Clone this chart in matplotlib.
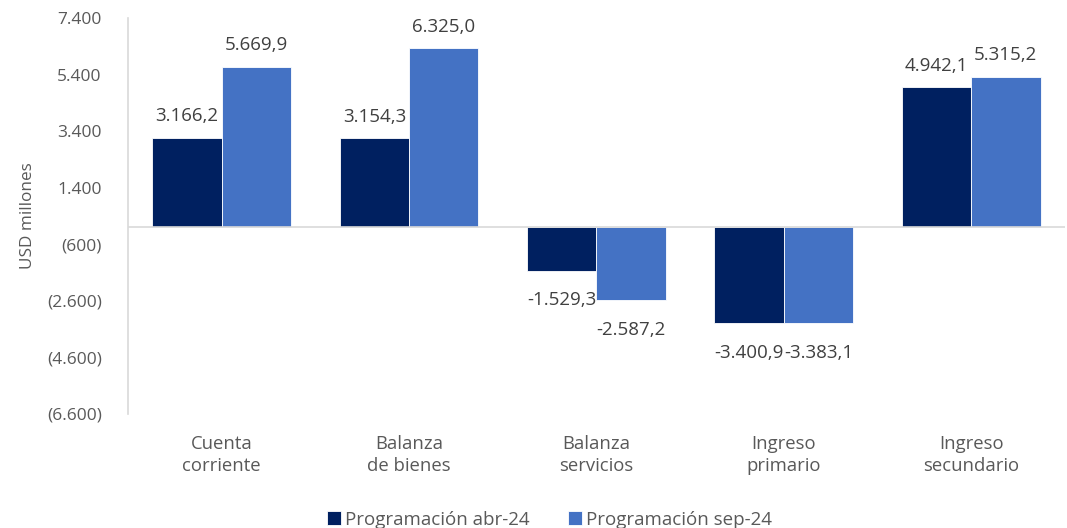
import numpy as np
import matplotlib.pyplot as plt

categories = ["Cuenta\ncorriente", "Balanza\nde bienes", "Balanza\nservicios",
              "Ingreso\nprimario", "Ingreso\nsecundario"]
abr24 = [3166.2, 3154.3, -1529.3, -3400.9, 4942.1]
sep24 = [5669.9, 6325.0, -2587.2, -3383.1, 5315.2]
series_names = ["Programación abr-24", "Programación sep-24"]
yticks = [7400, 5400, 3400, 1400, -600, -2600, -4600, -6600]


def fmt_es(v, dec=1):
    s = f"{abs(v):,.{dec}f}".replace(",", "X").replace(".", ",").replace("X", ".")
    return ("-" if v < 0 else "") + s


def fmt_tick(v):
    s = f"{abs(v):,.0f}".replace(",", ".")
    return f"({s})" if v < 0 else s


plt.rcParams['font.family'] = ['Open Sans', 'DejaVu Sans']

fig = plt.figure(figsize=(10.67, 5.28), dpi=100)
ax = fig.add_axes([0.12, 0.216, 0.878, 0.75])

x = np.arange(len(categories))
w = 0.37
c1, c2 = "#002060", "#4472C4"
b1 = ax.bar(x - w / 2, abr24, w, color=c1, edgecolor="white", linewidth=0.6, label=series_names[0])
b2 = ax.bar(x + w / 2, sep24, w, color=c2, edgecolor="white", linewidth=0.6, label=series_names[1])

for bars, vals in [(b1, abr24), (b2, sep24)]:
    for r, v in zip(bars, vals):
        xc = r.get_x() + r.get_width() / 2
        off = 9 if v >= 0 else -15
        ax.annotate(fmt_es(v), (xc, v), xytext=(0, off), textcoords="offset points",
                    ha="center", va="bottom" if v >= 0 else "top",
                    fontsize=13.5, color="#404040")

ax.set_xlim(-0.5, len(categories) - 0.5)
ax.set_ylim(-6600, 7400)
ax.set_yticks(yticks)
ax.set_yticklabels([fmt_tick(t) for t in yticks])
ax.set_xticks(x)
ax.set_xticklabels(categories, fontsize=13.3, color="#595959", linespacing=1.3)
ax.tick_params(axis="x", length=0, pad=15)
ax.tick_params(axis="y", length=0, pad=19, labelsize=12.5, labelcolor="#595959")
ax.axhline(0, color="#D9D9D9", linewidth=1.2)

for s in ["top", "right", "bottom"]:
    ax.spines[s].set_visible(False)
ax.spines["left"].set_color("#D9D9D9")
ax.spines["left"].set_linewidth(1.2)

ax.set_ylabel("USD millones", fontsize=12.3, color="#595959", labelpad=8)

fig.legend(handles=[b1, b2], loc="lower center", bbox_to_anchor=(0.515, -0.033), ncol=2,
           frameon=False, fontsize=13.5, handlelength=0.75, handleheight=0.75,
           handletextpad=0.25, columnspacing=2.0, labelcolor="#595959")

fig.savefig("out.png", dpi=100)
